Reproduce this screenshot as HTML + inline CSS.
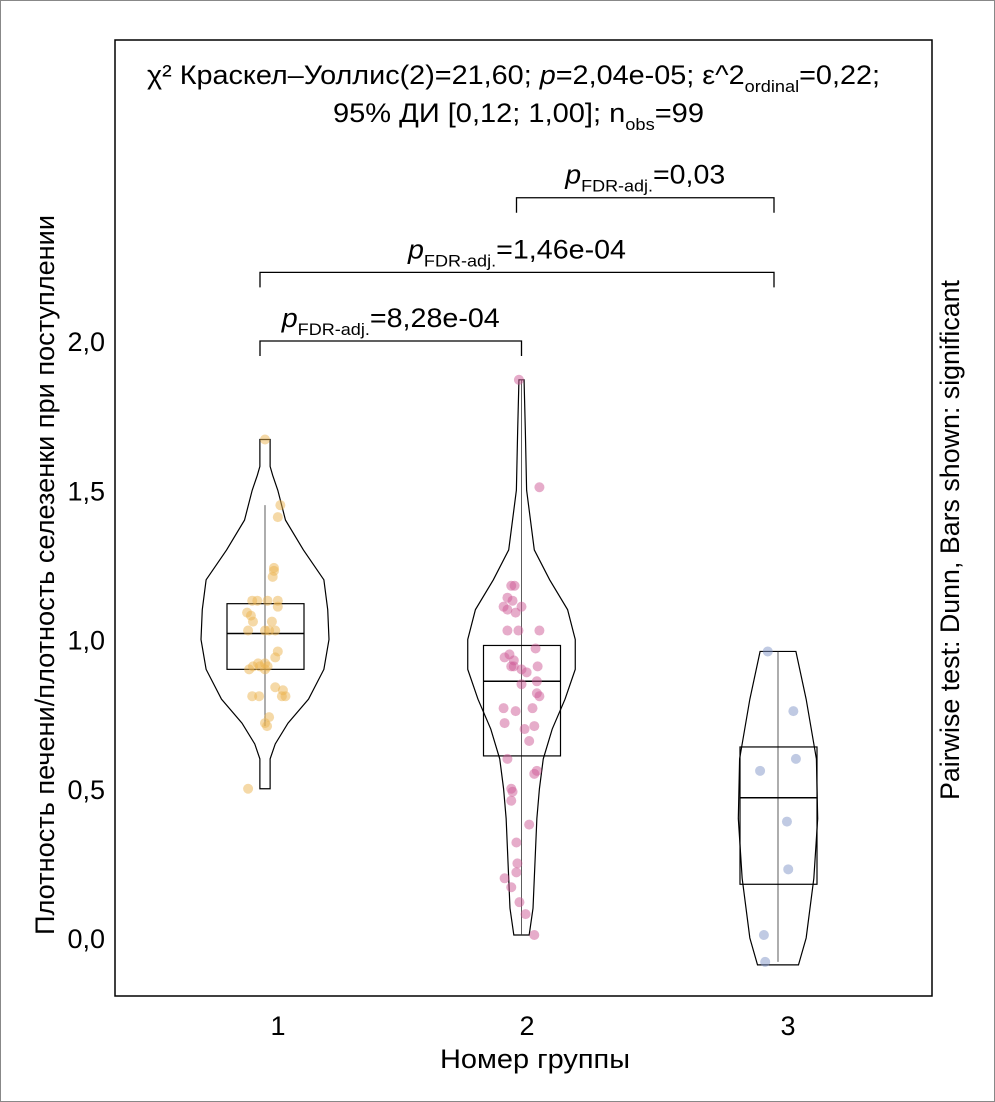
<!DOCTYPE html>
<html><head><meta charset="utf-8"><style>
body{margin:0;background:#fff;}
svg{display:block;font-family:"Liberation Sans Narrow","Liberation Sans",sans-serif;}
</style></head><body>
<svg id="chart" width="995" height="1102" viewBox="0 0 995 1102" xmlns="http://www.w3.org/2000/svg">
<rect x="0.5" y="0.5" width="994" height="1101" fill="#fff" stroke="#888"/>
<rect x="115" y="40" width="817" height="956" fill="none" stroke="#000" stroke-width="1.5"/>
<g id="marks"></g>
<text x="147" y="84" font-size="27" textLength="733" lengthAdjust="spacingAndGlyphs">χ² Краскел–Уоллис(2)=21,60; <tspan font-style="italic">p</tspan>=2,04e-05; ε^2<tspan font-size="17" dy="8">ordinal</tspan><tspan dy="-8">=0,22;</tspan></text>
<text x="333" y="122" font-size="27" textLength="371" lengthAdjust="spacingAndGlyphs">95% ДИ [0,12; 1,00]; n<tspan font-size="17" dy="8">obs</tspan><tspan dy="-8">=99</tspan></text>
<text x="440" y="1068" font-size="27" textLength="190" lengthAdjust="spacingAndGlyphs">Номер группы</text>
<text transform="translate(54,935) rotate(-90)" font-size="27" textLength="720" lengthAdjust="spacingAndGlyphs">Плотность печени/плотность селезенки при поступлении</text>
<text transform="translate(959,800) rotate(-90)" font-size="27" textLength="520" lengthAdjust="spacingAndGlyphs">Pairwise test: Dunn, Bars shown: significant</text>
</svg>
<script>
const categories=["1","2","3"];
const yTicks=[0,0.5,1.0,1.5,2.0];
const yTickLabels=["0,0","0,5","1,0","1,5","2,0"];
const g1Values=[1.67,1.45,1.41,1.24,1.23,1.21,1.13,1.13,1.13,1.13,1.11,1.09,1.08,1.06,1.06,1.03,1.03,1.03,1.03,0.96,0.94,0.91,0.90,0.92,0.91,0.92,0.90,0.91,0.84,0.83,0.81,0.81,0.81,0.81,0.72,0.71,0.74,0.50];
const g1Jitter=[0,.06,.05,.035,.035,.03,-.05,-.03,.01,.05,.05,-.07,-.055,-.047,.027,.04,-.066,0,.016,.05,.04,-.047,-.062,-.027,-.02,0,0,.01,.04,.07,.08,-.023,-.05,.066,0,.008,.016,-.066];
const g2Values=[1.87,1.51,1.18,1.18,1.14,1.13,1.11,1.10,1.09,1.11,1.03,1.03,1.03,0.97,0.94,0.95,0.91,0.91,0.93,0.90,0.89,0.91,0.86,0.85,0.82,0.81,0.77,0.76,0.77,0.72,0.70,0.71,0.66,0.60,0.56,0.55,0.50,0.49,0.46,0.38,0.32,0.25,0.20,0.22,0.17,0.12,0.08,0.01];
const g2Jitter=[-.01,.07,-.04,-.027,-.055,-.035,0,-.055,-.023,-.07,-.055,-.012,.07,.055,-.066,-.047,-.04,-.03,-.03,0,.02,.063,.06,0,.06,.07,-.07,-.023,.043,-.066,.012,.05,.03,-.055,.06,.05,-.04,-.035,-.04,.03,-.02,-.016,-.066,-.02,-.04,-.008,.016,.05];
const g3Values=[0.96,0.76,0.60,0.56,0.39,0.23,0.01,-0.08];
const g3Jitter=[-.04,.06,.07,-.07,.035,.04,-.055,-.05];
const boxStats=[[0.71,0.90,1.02,1.12,1.45],[0.01,0.61,0.86,0.98,1.87],[-0.08,0.18,0.47,0.64,0.96]];
const v1Vals=[1.67,1.59,1.58,1.55,1.50,1.40,1.30,1.20,1.10,1.00,0.90,0.80,0.72,0.65,0.60,0.59,0.50];
const v1Dens=[.02,.02,.02,.03,.05,.08,.15,.23,.245,.25,.23,.17,.09,.04,.02,.02,.02];
const v2Vals=[1.87,1.70,1.50,1.30,1.20,1.10,1.00,0.90,0.80,0.70,0.60,0.50,0.40,0.30,0.20,0.10,0.01];
const v2Dens=[.01,.015,.02,.05,.11,.18,.21,.21,.17,.12,.085,.07,.06,.055,.05,.045,.03];
const v3Vals=[0.96,0.80,0.60,0.40,0.20,0.00,-0.09];
const v3Dens=[.07,.11,.15,.155,.14,.11,.08];
const brackets=[[0,1,2.0,"8,28e-04"],[0,2,2.23,"1,46e-04"],[1,2,2.48,"0,03"]];

const NS="http://www.w3.org/2000/svg";
const marks=document.getElementById('marks');
const yS=v=>938-v*298.5;
const xS=i=>265+i*256.5;
const wS=d=>d*256;
function mk(tag,attrs,parent){const e=document.createElementNS(NS,tag);for(const k in attrs)e.setAttribute(k,attrs[k]);(parent||marks).appendChild(e);return e;}
yTicks.forEach((t,i)=>{const e=mk('text',{x:105,y:yS(t)+10,'font-size':27,'text-anchor':'end'});e.textContent=yTickLabels[i];

});
const labX=[278,527,788];
categories.forEach((c,i)=>{const e=mk('text',{x:labX[i],y:1035,'font-size':27,'text-anchor':'middle'});e.textContent=c;

});
const violins=[[v1Vals,v1Dens],[v2Vals,v2Dens],[v3Vals,v3Dens]];
violins.forEach((v,i)=>{const cx=xS(i);let L=[],R=[];v[0].forEach((val,k)=>{R.push((cx+wS(v[1][k]))+','+yS(val));L.unshift((cx-wS(v[1][k]))+','+yS(val));});
const p=mk('polygon',{points:R.concat(L).join(' '),fill:'none',stroke:'#000','stroke-width':1.2});

});
boxStats.forEach((b,i)=>{const cx=xS(i);
const w=mk('line',{x1:cx,x2:cx,y1:yS(b[0]),y2:yS(b[4]),stroke:'#333','stroke-width':0.8});


const r=mk('rect',{x:cx-38,width:77,y:yS(b[3]),height:yS(b[1])-yS(b[3]),fill:'none',stroke:'#000','stroke-width':1.2});


const m=mk('line',{x1:cx-38,x2:cx+39,y1:yS(b[2]),y2:yS(b[2]),stroke:'#000','stroke-width':1.5});

});
const pts=[[g1Values,g1Jitter,'rgba(235,180,80,0.5)'],[g2Values,g2Jitter,'rgba(205,90,150,0.5)'],[g3Values,g3Jitter,'rgba(130,150,200,0.5)']];
pts.forEach((g,i)=>{g[0].forEach((v,k)=>{const c=mk('circle',{cx:xS(i)+g[1][k]*256,cy:yS(v),r:5,fill:g[2]});

});});
const labelW=[218,218,160];
brackets.forEach((b,i)=>{const x1=xS(b[0])-5,x2=xS(b[1])-(b[1]===2?4:0),y=yS(b[2]);
const p=mk('path',{d:`M${x1},${y+15}V${y}H${x2}V${y+15}`,fill:'none',stroke:'#000','stroke-width':1.3});


const t=mk('text',{x:(x1+x2)/2-labelW[i]/2,y:y-14,'font-size':27,textLength:labelW[i],lengthAdjust:'spacingAndGlyphs'});
t.innerHTML='<tspan font-style="italic">p</tspan><tspan font-size="17" dy="8">FDR-adj.</tspan><tspan dy="-8">='+b[3]+'</tspan>';

});
</script>
</body></html>
